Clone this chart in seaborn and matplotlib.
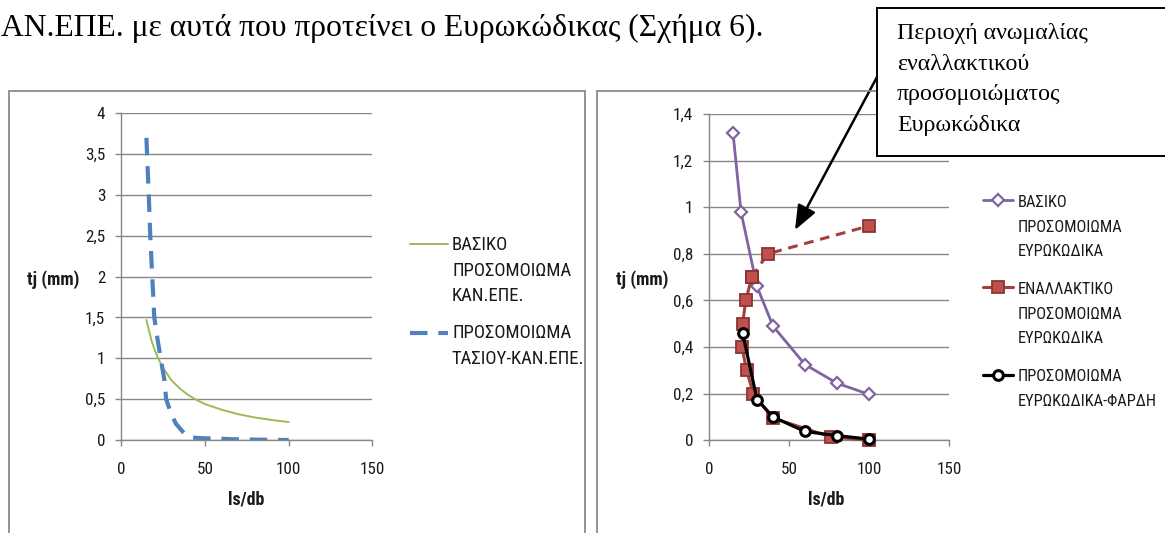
import numpy as np
import pandas as pd
import matplotlib
matplotlib.use("Agg")
import matplotlib.pyplot as plt
import seaborn as sns
from matplotlib import font_manager as fm
from matplotlib.patches import Rectangle
from matplotlib.legend_handler import HandlerLine2D

# ---------------- data ----------------
# left chart
left_basic_x = [15, 18, 20, 22, 25, 30, 35, 40, 45, 50, 60, 70, 80, 90, 100]
left_basic_y = [1.47, 1.22, 1.10, 1.00, 0.88, 0.73, 0.63, 0.55, 0.49, 0.44, 0.37, 0.315, 0.275, 0.245, 0.22]
left_tasiou_x = [15, 15.4, 16.4, 17.3, 18.5, 19.7, 21.6, 23.5, 25.7, 26.8, 29.6, 32.6, 37.6, 42, 50, 56, 65, 80, 100]
left_tasiou_y = [3.70, 3.50, 3.00, 2.50, 2.00, 1.50, 1.24, 1.00, 0.74, 0.50, 0.33, 0.20, 0.08, 0.03, 0.02, 0.02, 0.01, 0.005, 0.0]

# right chart
right_basic_x = [15, 20, 30, 40, 60, 80, 100]
right_basic_y = [1.32, 0.98, 0.66, 0.49, 0.325, 0.245, 0.197]
right_alt_x = [100, 76, 40, 27.7, 23.5, 20.6, 21, 23, 26.7, 36.7, 100]
right_alt_y = [0.0, 0.015, 0.095, 0.20, 0.30, 0.40, 0.50, 0.60, 0.70, 0.80, 0.92]
right_fardi_x = [21, 30, 40, 60, 80, 100]
right_fardi_y = [0.46, 0.175, 0.10, 0.038, 0.02, 0.005]

x_ticks = [0, 50, 100, 150]
x_tick_labels = ["0", "50", "100", "150"]
left_y_ticks = [0, 0.5, 1, 1.5, 2, 2.5, 3, 3.5, 4]
left_y_tick_labels = ["0", "0,5", "1", "1,5", "2", "2,5", "3", "3,5", "4"]
right_y_ticks = [0, 0.2, 0.4, 0.6, 0.8, 1.0, 1.2, 1.4]
right_y_tick_labels = ["0", "0,2", "0,4", "0,6", "0,8", "1", "1,2", "1,4"]

left_legend_labels = ["ΒΑΣΙΚΟ\nΠΡΟΣΟΜΟΙΩΜΑ\nΚΑΝ.ΕΠΕ.", "ΠΡΟΣΟΜΟΙΩΜΑ\nΤΑΣΙΟΥ-ΚΑΝ.ΕΠΕ."]
right_legend_labels = ["ΒΑΣΙΚΟ\nΠΡΟΣΟΜΟΙΩΜΑ\nΕΥΡΩΚΩΔΙΚΑ",
                       "ΕΝΑΛΛΑΚΤΙΚΟ\nΠΡΟΣΟΜΟΙΩΜΑ\nΕΥΡΩΚΩΔΙΚΑ",
                       "ΠΡΟΣΟΜΟΙΩΜΑ\nΕΥΡΩΚΩΔΙΚΑ-ΦΑΡΔΗ"]
y_label = "tj (mm)"
x_label = "ls/db"
title_text = "ΑΝ.ΕΠΕ. με αυτά που προτείνει ο Ευρωκώδικας (Σχήμα 6)."
note_text = "Περιοχή ανωμαλίας\nεναλλακτικού\nπροσομοιώματος\nΕυρωκώδικα"

# ---------------- style ----------------
sns.set_theme(style="white")
avail = {f.name for f in fm.fontManager.ttflist}
SANS = next((f for f in ["Liberation Sans Narrow", "Roboto Condensed", "Liberation Sans"] if f in avail), "DejaVu Sans")
SERIF = "Liberation Serif" if "Liberation Serif" in avail else "DejaVu Serif"
plt.rcParams["font.family"] = [SANS, "DejaVu Sans"]

GRID = "#878787"
FRAME = "#8a8a8a"
GREEN = "#9BBB59"
BLUE = "#4F81BD"
PURPLE = "#8064A2"
RED_LINE = "#A1403D"
RED_FILL = "#C0504D"
RED_EDGE = "#8E3431"
TXT = "#1a1a1a"

W, H = 1165, 533
fig = plt.figure(figsize=(W / 100, H / 100), dpi=100)
fig.patch.set_facecolor("white")


def fx(px):
    return px / W


def fy(py):
    return 1 - py / H


def add_ax(x0, y0, x1, y1):
    return fig.add_axes([fx(x0), fy(y1), (x1 - x0) / W, (y1 - y0) / H])


# chart frames
fig.add_artist(Rectangle((fx(8.5), fy(560)), (585 - 8.5) / W, (560 - 90.5) / H,
                         transform=fig.transFigure, fill=False, ec=FRAME, lw=1.3, zorder=1))
fig.add_artist(Rectangle((fx(596.5), fy(560)), (1200 - 596.5) / W, (560 - 90.5) / H,
                         transform=fig.transFigure, fill=False, ec=FRAME, lw=1.3, zorder=1))

axL = add_ax(121.3, 113.3, 372.4, 440)
axR = add_ax(709, 114, 949, 440.3)


def style(ax, ylim, yticks, ylabels):
    ax.set_facecolor("none")
    ax.set_xlim(0, 150)
    ax.set_ylim(*ylim)
    ax.set_xticks(x_ticks)
    ax.set_xticklabels(x_tick_labels)
    ax.set_yticks(yticks)
    ax.set_yticklabels(ylabels)
    ax.grid(False)
    ax.yaxis.grid(True, color=GRID, lw=1.0)
    ax.set_axisbelow(True)
    for s in ["top", "right"]:
        ax.spines[s].set_visible(False)
    for s in ["left", "bottom"]:
        ax.spines[s].set_color(GRID)
        ax.spines[s].set_linewidth(1.0)
    ax.tick_params(axis="both", which="both", bottom=True, left=True, direction="out",
                   length=4.5, width=1, color=GRID, labelsize=12.3, labelcolor=TXT)
    ax.tick_params(axis="y", pad=7)
    ax.tick_params(axis="x", pad=11)


style(axL, (0, 4), left_y_ticks, left_y_tick_labels)
style(axR, (0, 1.4), right_y_ticks, right_y_tick_labels)

# ---------------- left chart ----------------
sns.lineplot(x=left_basic_x, y=left_basic_y, ax=axL, color=GREEN, lw=1.4,
             sort=False, estimator=None, legend=False)
hL1 = axL.lines[-1]
sns.lineplot(x=left_tasiou_x, y=left_tasiou_y, ax=axL, color=BLUE, lw=3.0,
             sort=False, estimator=None, legend=False, dashes=False)
hL2 = axL.lines[-1]
hL2.set_linestyle((0, (4.2, 2.6)))
hL2.set_solid_capstyle("butt")

# ---------------- right chart ----------------
sns.lineplot(x=right_basic_x, y=right_basic_y, ax=axR, color=PURPLE, lw=2.0,
             sort=False, estimator=None, legend=False, marker="D", markersize=6,
             markerfacecolor="white", markeredgecolor=PURPLE, markeredgewidth=1.6,
             clip_on=False, zorder=3)
hR1 = axR.lines[-1]

n_solid = 9
sns.lineplot(x=right_alt_x[n_solid - 1:], y=right_alt_y[n_solid - 1:], ax=axR, color=RED_LINE,
             lw=2.2, sort=False, estimator=None, legend=False, marker="s", markersize=8.5,
             markerfacecolor=RED_FILL, markeredgecolor=RED_EDGE, markeredgewidth=1.3,
             clip_on=False, zorder=4)
axR.lines[-1].set_linestyle((0, (3.2, 2.2)))
sns.lineplot(x=right_alt_x[:n_solid], y=right_alt_y[:n_solid], ax=axR, color=RED_LINE,
             lw=2.2, sort=False, estimator=None, legend=False, marker="s", markersize=8.5,
             markerfacecolor=RED_FILL, markeredgecolor=RED_EDGE, markeredgewidth=1.3,
             clip_on=False, zorder=4)
hR2 = axR.lines[-1]

sns.lineplot(x=right_fardi_x, y=right_fardi_y, ax=axR, color="black", lw=2.3,
             sort=False, estimator=None, legend=False, marker="o", markersize=7,
             markerfacecolor="white", markeredgecolor="black", markeredgewidth=2.2,
             clip_on=False, zorder=5)
hR3 = axR.lines[-1]

# ---------------- axis labels ----------------
for ax, ylx, xlx in [(axL, 53, 246), (axR, 642, 826)]:
    ax.set_ylabel(y_label, rotation=0, fontweight="bold", fontsize=13, color=TXT,
                  ha="center", va="center")
    ax.yaxis.set_label_coords(fx(ylx), fy(280), transform=fig.transFigure)
    ax.set_xlabel(x_label, fontweight="bold", fontsize=13, color=TXT, ha="center", va="center")
    ax.xaxis.set_label_coords(fx(xlx), fy(500), transform=fig.transFigure)


# ---------------- legends ----------------
class FirstLineHandler(HandlerLine2D):
    """Put the legend key next to the first line of a multi-line label."""

    def __init__(self, shift_pt, **kw):
        super().__init__(**kw)
        self.shift_pt = shift_pt

    def create_artists(self, legend, orig_handle, xdescent, ydescent, width, height, fontsize, trans):
        arts = super().create_artists(legend, orig_handle, xdescent, ydescent, width, height, fontsize, trans)
        for a in arts:
            a.set_ydata(np.asarray(a.get_ydata(), float) + self.shift_pt)
        return arts


def make_legend(ax, handles, labels, x, y, fs, pitch_px, gap_px, hl_px, pad_px):
    fs_px = fs * 100 / 72
    ls = pitch_px / (0.92 * fs_px)
    pitch_pt = pitch_px * 0.72
    hmap = {}
    for h, lab in zip(handles, labels):
        n = lab.count("\n") + 1
        hmap[h] = FirstLineHandler((n - 1) / 2 * pitch_pt)
    leg = ax.legend(handles, labels, loc="upper left", bbox_to_anchor=(fx(x), fy(y)),
                    bbox_transform=fig.transFigure, frameon=False, fontsize=fs,
                    borderpad=0, borderaxespad=0, numpoints=1,
                    handlelength=hl_px / fs_px, handletextpad=pad_px / fs_px,
                    labelspacing=max(gap_px - 1.13 * fs_px, 0) / fs_px, handler_map=hmap)
    for t in leg.get_texts():
        t.set_linespacing(ls)
        t.set_color(TXT)
    return leg


make_legend(axL, [hL1, hL2], left_legend_labels, 410, 236, 13.5, 26.6, 40, 38, 4)
make_legend(axR, [hR1, hR2, hR3], right_legend_labels, 983, 195, 11.8, 27.3, 41, 30, 5)

# ---------------- title fragment, note box and arrow ----------------
fig.text(fx(1), fy(28), title_text, family=[SERIF, "DejaVu Serif"], fontsize=22.8,
         color="black", ha="left", va="center")

fig.add_artist(Rectangle((fx(877), fy(156)), (1200 - 877) / W, (156 - 7.5) / H,
                         transform=fig.transFigure, fc="white", ec="black", lw=1.4, zorder=5))
fig.text(fx(897), fy(23), note_text, family=[SERIF, "DejaVu Serif"], fontsize=17.2,
         color="black", ha="left", va="top", linespacing=1.6, zorder=6)

axR.annotate("", xy=(fx(795), fy(230)), xycoords="figure fraction",
             xytext=(fx(877), fy(77)), textcoords="figure fraction",
             arrowprops=dict(arrowstyle="-|>,head_length=0.75,head_width=0.3", color="black",
                             lw=1.8, mutation_scale=20, shrinkA=0, shrinkB=0),
             annotation_clip=False, zorder=7)

fig.savefig("out.png", dpi=100, facecolor="white")
